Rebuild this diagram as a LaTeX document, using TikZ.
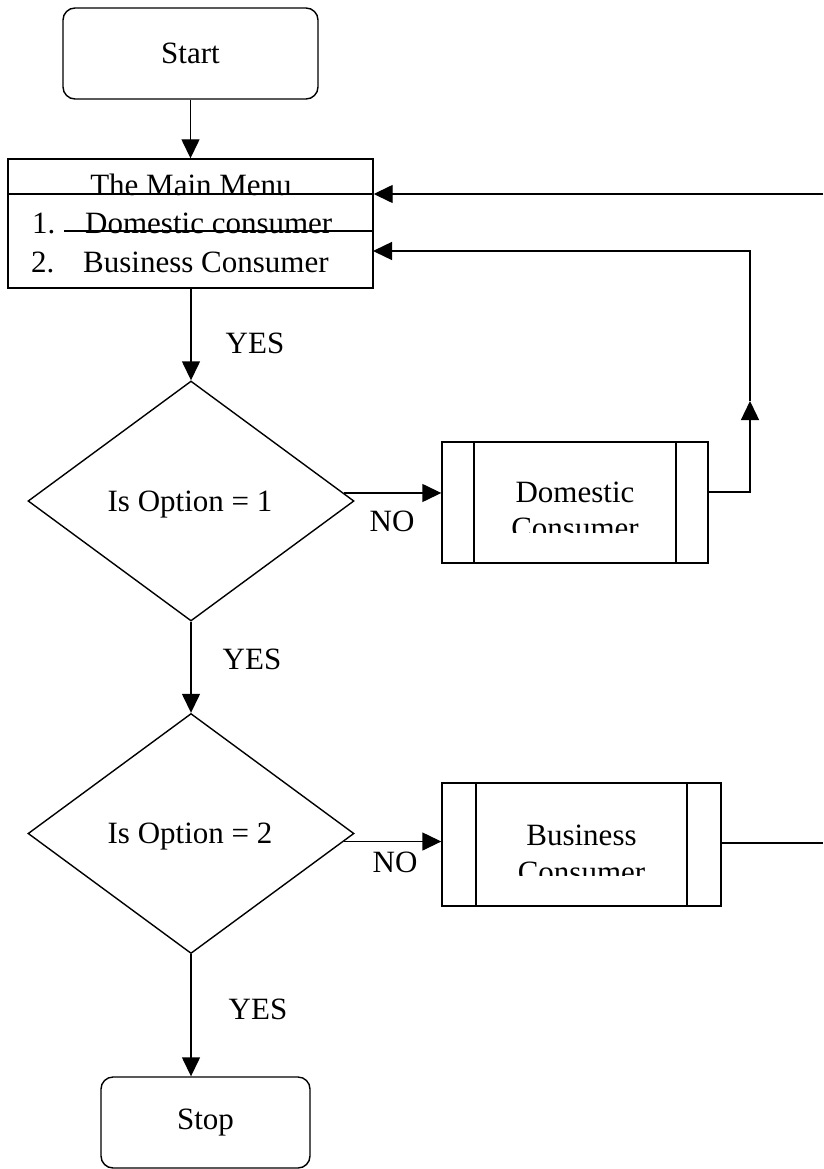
\documentclass[tikz,border=0pt]{standalone}
\usepackage{fontspec}
\setmainfont{Liberation Serif}
\usetikzlibrary{shapes.geometric,arrows.meta,calc}
\begin{document}
\begin{tikzpicture}[x=1pt,y=-1pt,
  every node/.style={font=\fontsize{31}{37}\selectfont},
  line/.style={line width=1.4pt, line join=miter},
  arr/.style={line, -{Triangle[length=19pt,width=18pt]}},
  termbox/.style={draw, line width=1.4pt, rounded corners=12pt, inner sep=0pt},
  plainbox/.style={draw, line width=1.4pt, inner sep=0pt},
  decision/.style={draw, line width=1.4pt, diamond, minimum width=326pt, minimum height=240pt, inner sep=0pt},
  txt/.style={inner sep=0pt}]
\useasboundingbox (0,0) rectangle (823,1169);
\fill[white] (0,0) rectangle (823,1169);

% Start
\node[termbox, minimum width=255pt, minimum height=91pt] (start) at (190.5,53.5) {Start};

% Main menu
\node[plainbox, minimum width=365pt, minimum height=129pt] (menu) at (190.5,223.5) {};
\node[txt, anchor=base] (mtitle) at (191,196) {The Main Menu};
\node[txt, anchor=base west] (m1n) at (32,233) {1.};
\node[txt, anchor=base west] (m1t) at (85,233) {Domestic consumer};
\node[txt, anchor=base west] (m2n) at (31,272) {2.};
\node[txt, anchor=base west] (m2t) at (83,272) {Business Consumer};
\draw[line] (menu.west |- 0,194) -- (menu.east |- 0,194);
\draw[line] (64,231) -- (menu.east |- 0,231);

% Decisions
\node[decision] (d1) at (191,501) {};
\node[txt] (d1t) at (190,505) {Is Option = 1};
\node[decision] (d2) at (191,833.5) {};
\node[txt] (d2t) at (190,837) {Is Option = 2};

% Domestic consumer process
\node[plainbox, minimum width=266pt, minimum height=121pt] (dom) at (575,502.5) {};
\draw[line] (474,442) -- (474,563);
\draw[line] (676,442) -- (676,563);
\begin{scope}
  \clip (475,443) rectangle (675,532);
  \node[txt, anchor=base] (domA) at (575,502) {Domestic};
  \node[txt, anchor=base] (domB) at (575,538) {Consumer};
\end{scope}

% Business consumer process
\node[plainbox, minimum width=279pt, minimum height=123pt] (biz) at (581.5,844.5) {};
\draw[line] (476,783) -- (476,906);
\draw[line] (687,783) -- (687,906);
\begin{scope}
  \clip (477,784) rectangle (686,875);
  \node[txt, anchor=base] (bizA) at (581.5,845) {Business};
  \node[txt, anchor=base] (bizB) at (581.5,882) {Consumer};
\end{scope}

% Stop
\node[termbox, minimum width=209pt, minimum height=91pt] (stop) at (205.5,1122.5) {Stop};

% Connectors
\draw[arr] (start.south) -- (menu.north);
\draw[arr] (menu.south -| d1.north) -- (d1.north);
\node[txt] (yes1) at (255,343) {YES};
\draw[arr] (d1.south) -- (d2.north);
\node[txt] (yes2) at (252,659) {YES};
\draw[arr] (d2.south) -- (stop.north -| d2.south);
\node[txt] (yes3) at (258,1009) {YES};

\draw[arr] (d1.3.4) -- (d1.3.4 -| dom.west);
\node[txt] (no1) at (392,521) {NO};
\draw[arr] (d2.-3.4) -- (d2.-3.4 -| biz.west);
\node[txt] (no2) at (395,862) {NO};

\coordinate (rtop) at (823,194);
\draw[arr] (rtop) -- (rtop -| menu.east);

\coordinate (up) at (750,401);
\coordinate (m2) at (373,251);
\draw[arr] (dom.east |- 0,492) -| (up);
\draw[arr] (up) |- (m2);

\coordinate (rbiz) at (823,843);
\draw[line] (biz.east |- rbiz) -- (rbiz);
\end{tikzpicture}
\end{document}
